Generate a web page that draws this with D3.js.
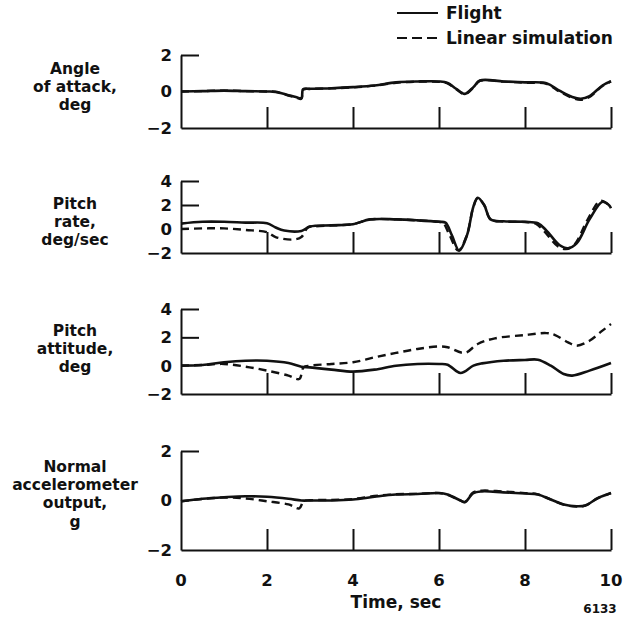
<!DOCTYPE html>
<html>
<head>
<meta charset="utf-8">
<script src="https://cdn.jsdelivr.net/npm/d3@7"></script>
<style>
  body { margin: 0; background: #fff; }
  svg text { font-family: "DejaVu Sans", "Liberation Sans", Arial, sans-serif; font-weight: bold; fill: #111; }
</style>
</head>
<body>
<svg id="chart" width="635" height="619" viewBox="0 0 635 619"></svg>
<script>
// time, sec
const timeTicks = [0, 2, 4, 6, 8, 10];

// [time, value] pairs
const aoaFlight = [[0,0],[0.5,0.02],[1,0.05],[1.5,0.02],[2,0],[2.2,-0.02],[2.5,-0.2],[2.67,-0.3],[2.8,-0.36],[2.84,0.12],[3,0.15],[3.5,0.18],[4,0.24],[4.5,0.33],[5,0.5],[5.5,0.55],[6,0.55],[6.2,0.47],[6.4,0.15],[6.6,-0.13],[6.8,0.24],[6.95,0.6],[7.5,0.55],[8,0.5],[8.5,0.45],[8.8,0.05],[9.1,-0.3],[9.3,-0.4],[9.5,-0.25],[9.8,0.33],[10,0.56]];
const aoaSim = [[0,0],[0.5,0.02],[1,0.05],[1.5,0.02],[2,0],[2.2,-0.02],[2.5,-0.22],[2.67,-0.32],[2.8,-0.4],[2.84,0.1],[3,0.14],[3.5,0.17],[4,0.23],[4.5,0.32],[5,0.48],[5.5,0.54],[6,0.53],[6.2,0.45],[6.4,0.12],[6.6,-0.15],[6.8,0.22],[6.95,0.58],[7.5,0.54],[8,0.48],[8.5,0.42],[8.8,0.0],[9.1,-0.35],[9.3,-0.45],[9.5,-0.3],[9.8,0.3],[10,0.55]];

const rateFlight = [[0,0.45],[0.5,0.6],[1,0.6],[1.5,0.53],[2,0.48],[2.2,0.13],[2.4,-0.13],[2.8,-0.16],[3,0.2],[3.5,0.3],[4,0.4],[4.4,0.8],[5,0.8],[5.5,0.72],[6,0.6],[6.15,0.53],[6.3,-0.53],[6.47,-1.8],[6.65,-0.53],[6.8,1.87],[6.9,2.6],[7.05,2.0],[7.2,0.8],[7.5,0.64],[8,0.6],[8.3,0.48],[8.5,-0.13],[8.8,-1.33],[9,-1.6],[9.2,-1.2],[9.5,0.8],[9.8,2.27],[9.95,2.0],[10,1.73]];
const rateSim = [[0,0],[0.5,0.05],[1,0.05],[1.5,-0.08],[2,-0.27],[2.2,-0.67],[2.6,-0.88],[2.8,-0.67],[2.95,0.13],[3.1,0.22],[3.5,0.3],[4,0.4],[4.4,0.8],[5,0.8],[5.5,0.72],[6,0.6],[6.1,0.5],[6.25,-0.55],[6.45,-1.8],[6.65,-0.5],[6.8,1.85],[6.9,2.55],[7.05,2.0],[7.2,0.8],[7.5,0.62],[8,0.58],[8.25,0.45],[8.45,-0.2],[8.75,-1.4],[8.95,-1.68],[9.15,-1.3],[9.45,0.75],[9.75,2.35],[9.9,2.15],[10,1.85]];

const attFlight = [[0,0],[0.5,0.05],[1,0.24],[1.5,0.35],[2,0.35],[2.5,0.19],[2.8,-0.07],[3,-0.12],[3.5,-0.28],[4,-0.42],[4.5,-0.28],[5,0],[5.5,0.12],[6,0.12],[6.2,0.07],[6.5,-0.52],[6.8,0],[7,0.16],[7.5,0.35],[8,0.4],[8.3,0.42],[8.6,0],[8.9,-0.59],[9.1,-0.7],[9.5,-0.35],[10,0.19]];
const attSim = [[0,0],[0.5,0.05],[1,0.12],[1.5,-0.07],[2,-0.35],[2.5,-0.7],[2.75,-0.94],[2.85,-0.12],[3,0],[3.5,0.12],[4,0.24],[4.5,0.59],[5,0.9],[5.5,1.18],[6,1.36],[6.2,1.3],[6.6,0.9],[6.9,1.53],[7.3,1.93],[8,2.16],[8.5,2.3],[8.7,2.16],[9,1.65],[9.2,1.41],[9.5,1.76],[9.8,2.47],[10,2.94]];

const accFlight = [[0,-0.03],[0.5,0.07],[1,0.13],[1.5,0.17],[2,0.15],[2.5,0.07],[2.8,0],[3,0],[3.5,0],[4,0.04],[4.5,0.15],[5,0.24],[5.5,0.26],[6,0.3],[6.2,0.24],[6.5,0],[6.6,-0.07],[6.8,0.3],[7,0.37],[7.5,0.33],[8,0.28],[8.3,0.24],[8.6,0.04],[8.9,-0.16],[9.2,-0.23],[9.4,-0.2],[9.7,0.1],[10,0.3]];
const accSim = [[0,-0.03],[0.5,0.06],[1,0.12],[1.5,0.08],[2,-0.03],[2.5,-0.16],[2.75,-0.32],[2.85,-0.03],[3,0.01],[3.5,0.02],[4,0.06],[4.5,0.18],[5,0.25],[5.5,0.27],[6,0.3],[6.2,0.23],[6.5,0],[6.6,-0.06],[6.8,0.33],[7,0.4],[7.5,0.36],[8,0.3],[8.3,0.25],[8.6,0.04],[8.9,-0.17],[9.2,-0.24],[9.4,-0.21],[9.7,0.1],[10,0.3]];

const panelTitles = [
  ["Angle", "of attack,", "deg"],
  ["Pitch", "rate,", "deg/sec"],
  ["Pitch", "attitude,", "deg"],
  ["Normal", "accelerometer", "output,", "g"]
];
const panelDomains = [[-2, 2], [-2, 4], [-2, 4], [-2, 2]];
const panelTicks = [[-2, 0, 2], [-2, 0, 2, 4], [-2, 0, 2, 4], [-2, 0, 2]];
const panelSeries = [[aoaFlight, aoaSim], [rateFlight, rateSim], [attFlight, attSim], [accFlight, accSim]];
const legendLabels = ["Flight", "Linear simulation"];

const svg = d3.select("#chart");
const ink = "#111";

// plot frames (pixel layout) and first title line position
const frames = [
  {top: 55, bottom: 128, title: 68},
  {top: 181, bottom: 253, title: 203},
  {top: 309, bottom: 394, title: 330},
  {top: 451, bottom: 550, title: 466}
];

const x = d3.scaleLinear().domain([0, 10]).range([181, 611]);
const fmt = v => v < 0 ? "\u2212" + Math.abs(v) : String(v);

frames.forEach((f, i) => {
  const y = d3.scaleLinear().domain(panelDomains[i]).range([f.bottom, f.top]);
  const g = svg.append("g");

  // left axis line + short ticks pointing inward at positive values
  g.append("g")
    .attr("transform", `translate(${x(0)},0)`)
    .call(d3.axisRight(y).tickValues(panelTicks[i].filter(v => v > 0)).tickSize(18).tickSizeOuter(0).tickFormat(""))
    .call(a => a.select(".domain").attr("stroke", ink).attr("stroke-width", 2))
    .call(a => a.selectAll(".tick line").attr("stroke", ink).attr("stroke-width", 2));

  // bottom axis with ticks pointing upward
  g.append("g")
    .attr("transform", `translate(0,${f.bottom})`)
    .call(d3.axisBottom(x).tickValues(timeTicks.slice(1)).tickSize(-21).tickSizeOuter(0).tickFormat(""))
    .call(a => a.select(".domain").attr("stroke", ink).attr("stroke-width", 2))
    .call(a => a.selectAll(".tick line").attr("stroke", ink).attr("stroke-width", 2));

  // y tick labels
  g.selectAll(".ylab")
    .data(panelTicks[i])
    .enter().append("text")
    .attr("x", 172)
    .attr("y", d => y(d))
    .attr("dy", "0.36em")
    .attr("text-anchor", "end")
    .attr("font-size", "16.5px")
    .text(fmt);

  // title on the left
  g.selectAll(".ttl")
    .data(panelTitles[i])
    .enter().append("text")
    .attr("x", 75)
    .attr("y", (d, k) => f.title + k * 18.4)
    .attr("dy", "0.36em")
    .attr("text-anchor", "middle")
    .attr("font-size", "15.5px")
    .text(d => d);

  const line = d3.line()
    .x(d => x(d[0]))
    .y(d => y(d[1]))
    .curve(d3.curveCatmullRom.alpha(0.5));

  const [flight, sim] = panelSeries[i];
  g.append("path")
    .attr("d", line(sim))
    .attr("fill", "none")
    .attr("stroke", ink)
    .attr("stroke-width", 2.4)
    .attr("stroke-dasharray", "8,5");
  g.append("path")
    .attr("d", line(flight))
    .attr("fill", "none")
    .attr("stroke", ink)
    .attr("stroke-width", 2.6);
});

// time labels under the last panel
svg.selectAll(".xlab")
  .data(timeTicks)
  .enter().append("text")
  .attr("x", d => x(d))
  .attr("y", 580)
  .attr("dy", "0.36em")
  .attr("text-anchor", "middle")
  .attr("font-size", "16.5px")
  .text(d => d);

svg.append("text")
  .attr("x", 396)
  .attr("y", 602)
  .attr("dy", "0.36em")
  .attr("text-anchor", "middle")
  .attr("font-size", "17px")
  .text("Time, sec");

svg.append("text")
  .attr("x", 600)
  .attr("y", 609)
  .attr("dy", "0.36em")
  .attr("text-anchor", "middle")
  .attr("font-size", "12px")
  .text("6133");

// legend
const legend = svg.append("g");
legendLabels.forEach((lab, k) => {
  const ly = 13 + k * 25;
  legend.append("line")
    .attr("x1", 397).attr("x2", 438)
    .attr("y1", ly).attr("y2", ly)
    .attr("stroke", ink)
    .attr("stroke-width", 2)
    .attr("stroke-dasharray", k === 1 ? "10,5" : null);
  legend.append("text")
    .attr("x", 446)
    .attr("y", ly)
    .attr("dy", "0.36em")
    .attr("font-size", "17px")
    .text(lab);
});
</script>
</body>
</html>
